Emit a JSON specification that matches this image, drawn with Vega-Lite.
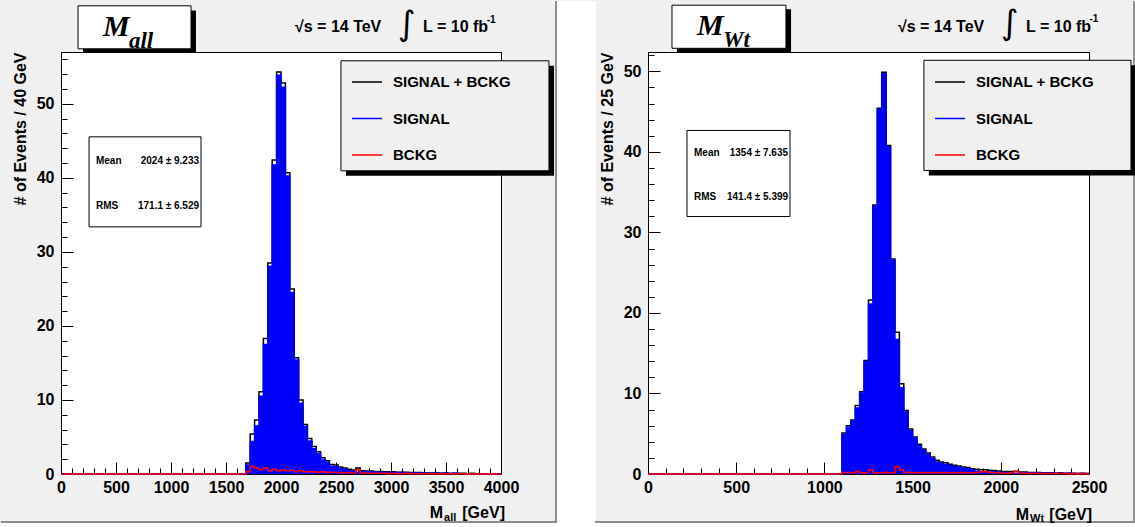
{
"$schema":"https://vega.github.io/schema/vega-lite/v6.json",
"background":"#f0f0f0",
"padding":0,
"config":{
 "view":{"fill":"white","stroke":"black","strokeWidth":1},
 "axis":{"labelFont":"Liberation Sans","labelFontSize":16,"labelFontWeight":"bold","labelColor":"#000","titleFont":"Liberation Sans","titleFontSize":16,"titleFontWeight":"bold","titleColor":"#000","domainColor":"#000","tickColor":"#000","grid":false,"labelOverlap":false,"labelFlush":false}
},
"datasets":{
 "mall":[
  {"x":0,"tot":0,"sig":0,"bkg":0},
  {"x":1680,"tot":1.5,"sig":1.2,"bkg":0.3},
  {"x":1720,"tot":5.4,"sig":4.4,"bkg":1.0},
  {"x":1760,"tot":7.3,"sig":6.5,"bkg":0.8},
  {"x":1800,"tot":11.1,"sig":10.5,"bkg":0.6},
  {"x":1840,"tot":18.3,"sig":17.5,"bkg":0.8},
  {"x":1880,"tot":28.5,"sig":28.05,"bkg":0.45},
  {"x":1920,"tot":42.4,"sig":41.75,"bkg":0.65},
  {"x":1960,"tot":54.3,"sig":53.85,"bkg":0.45},
  {"x":2000,"tot":52.8,"sig":52.25,"bkg":0.55},
  {"x":2040,"tot":40.7,"sig":40.25,"bkg":0.45},
  {"x":2080,"tot":25.0,"sig":24.5,"bkg":0.5},
  {"x":2120,"tot":15.7,"sig":15.4,"bkg":0.3},
  {"x":2160,"tot":10.0,"sig":9.55,"bkg":0.45},
  {"x":2200,"tot":6.7,"sig":6.4,"bkg":0.3},
  {"x":2240,"tot":4.8,"sig":4.45,"bkg":0.35},
  {"x":2280,"tot":3.7,"sig":3.4,"bkg":0.3},
  {"x":2320,"tot":3.0,"sig":2.75,"bkg":0.25},
  {"x":2360,"tot":2.2,"sig":1.9,"bkg":0.3},
  {"x":2400,"tot":1.8,"sig":1.6,"bkg":0.2},
  {"x":2440,"tot":1.3,"sig":1.05,"bkg":0.25},
  {"x":2480,"tot":1.2,"sig":1.0,"bkg":0.2},
  {"x":2520,"tot":0.95,"sig":0.75,"bkg":0.2},
  {"x":2560,"tot":0.8,"sig":0.65,"bkg":0.15},
  {"x":2600,"tot":0.65,"sig":0.45,"bkg":0.2},
  {"x":2640,"tot":0.55,"sig":0.4,"bkg":0.15},
  {"x":2680,"tot":0.8,"sig":0.25,"bkg":0.55},
  {"x":2720,"tot":0.45,"sig":0.3,"bkg":0.15},
  {"x":2760,"tot":0.4,"sig":0.3,"bkg":0.1},
  {"x":2800,"tot":0.4,"sig":0.3,"bkg":0.1},
  {"x":2840,"tot":0.35,"sig":0.25,"bkg":0.1},
  {"x":2880,"tot":0.35,"sig":0.25,"bkg":0.1},
  {"x":2920,"tot":0.3,"sig":0.2,"bkg":0.1},
  {"x":2960,"tot":0.3,"sig":0.25,"bkg":0.05},
  {"x":3000,"tot":0.3,"sig":0.2,"bkg":0.1},
  {"x":3040,"tot":0.25,"sig":0.2,"bkg":0.05},
  {"x":3080,"tot":0.25,"sig":0.2,"bkg":0.05},
  {"x":3120,"tot":0.25,"sig":0.15,"bkg":0.1},
  {"x":3160,"tot":0.2,"sig":0.15,"bkg":0.05},
  {"x":3200,"tot":0.2,"sig":0.15,"bkg":0.05},
  {"x":3240,"tot":0.2,"sig":0.15,"bkg":0.05},
  {"x":3280,"tot":0.15,"sig":0.1,"bkg":0.05},
  {"x":3320,"tot":0.15,"sig":0.1,"bkg":0.05},
  {"x":3360,"tot":0.15,"sig":0.1,"bkg":0.05},
  {"x":3400,"tot":0.15,"sig":0.1,"bkg":0.05},
  {"x":3440,"tot":0.1,"sig":0.1,"bkg":0},
  {"x":3480,"tot":0.15,"sig":0.1,"bkg":0.05},
  {"x":3520,"tot":0.1,"sig":0.05,"bkg":0.05},
  {"x":3560,"tot":0.1,"sig":0.1,"bkg":0},
  {"x":3600,"tot":0.1,"sig":0.05,"bkg":0.05},
  {"x":3640,"tot":0.1,"sig":0.05,"bkg":0.05},
  {"x":3680,"tot":0.05,"sig":0.05,"bkg":0},
  {"x":3720,"tot":0.1,"sig":0.05,"bkg":0.05},
  {"x":3760,"tot":0.05,"sig":0.05,"bkg":0},
  {"x":3800,"tot":0.05,"sig":0.05,"bkg":0},
  {"x":3840,"tot":0.05,"sig":0,"bkg":0.05},
  {"x":3880,"tot":0.05,"sig":0.05,"bkg":0},
  {"x":3920,"tot":0,"sig":0,"bkg":0},
  {"x":3960,"tot":0.05,"sig":0.05,"bkg":0},
  {"x":4000,"tot":0.05,"sig":0.05,"bkg":0}
 ],
 "mwt":[
  {"x":0,"tot":0,"sig":0,"bkg":0},
  {"x":1100,"tot":5.1,"sig":4.9,"bkg":0.2},
  {"x":1125,"tot":6.0,"sig":5.8,"bkg":0.2},
  {"x":1150,"tot":6.7,"sig":6.55,"bkg":0.15},
  {"x":1175,"tot":8.5,"sig":8.2,"bkg":0.3},
  {"x":1200,"tot":10.2,"sig":10.05,"bkg":0.15},
  {"x":1225,"tot":14.1,"sig":13.95,"bkg":0.15},
  {"x":1250,"tot":21.6,"sig":21.1,"bkg":0.5},
  {"x":1275,"tot":33.4,"sig":33.25,"bkg":0.15},
  {"x":1300,"tot":45.4,"sig":45.25,"bkg":0.15},
  {"x":1325,"tot":49.9,"sig":49.7,"bkg":0.2},
  {"x":1350,"tot":40.8,"sig":40.65,"bkg":0.15},
  {"x":1375,"tot":26.7,"sig":26.55,"bkg":0.15},
  {"x":1400,"tot":17.6,"sig":16.7,"bkg":0.9},
  {"x":1425,"tot":11.2,"sig":10.7,"bkg":0.5},
  {"x":1450,"tot":7.9,"sig":7.7,"bkg":0.2},
  {"x":1475,"tot":5.6,"sig":5.4,"bkg":0.2},
  {"x":1500,"tot":4.6,"sig":4.45,"bkg":0.15},
  {"x":1525,"tot":3.7,"sig":3.5,"bkg":0.2},
  {"x":1550,"tot":3.1,"sig":2.95,"bkg":0.15},
  {"x":1575,"tot":2.6,"sig":2.4,"bkg":0.2},
  {"x":1600,"tot":2.1,"sig":1.95,"bkg":0.15},
  {"x":1625,"tot":1.7,"sig":1.5,"bkg":0.2},
  {"x":1650,"tot":1.5,"sig":1.35,"bkg":0.15},
  {"x":1675,"tot":1.4,"sig":1.2,"bkg":0.2},
  {"x":1700,"tot":1.2,"sig":1.05,"bkg":0.15},
  {"x":1725,"tot":1.1,"sig":0.9,"bkg":0.2},
  {"x":1750,"tot":1.0,"sig":0.85,"bkg":0.15},
  {"x":1775,"tot":0.87,"sig":0.67,"bkg":0.2},
  {"x":1800,"tot":0.8,"sig":0.65,"bkg":0.15},
  {"x":1825,"tot":0.66,"sig":0.51,"bkg":0.15},
  {"x":1850,"tot":0.58,"sig":0.38,"bkg":0.2},
  {"x":1875,"tot":0.54,"sig":0.29,"bkg":0.25},
  {"x":1900,"tot":0.54,"sig":0.24,"bkg":0.3},
  {"x":1925,"tot":0.46,"sig":0.26,"bkg":0.2},
  {"x":1950,"tot":0.42,"sig":0.27,"bkg":0.15},
  {"x":1975,"tot":0.37,"sig":0.22,"bkg":0.15},
  {"x":2000,"tot":0.3,"sig":0.2,"bkg":0.1},
  {"x":2025,"tot":0.3,"sig":0.2,"bkg":0.1},
  {"x":2050,"tot":0.3,"sig":0.15,"bkg":0.15},
  {"x":2075,"tot":0.35,"sig":0.05,"bkg":0.3},
  {"x":2100,"tot":0.25,"sig":0.15,"bkg":0.1},
  {"x":2125,"tot":0.25,"sig":0.15,"bkg":0.1},
  {"x":2150,"tot":0.2,"sig":0.15,"bkg":0.05},
  {"x":2175,"tot":0.2,"sig":0.1,"bkg":0.1},
  {"x":2200,"tot":0.2,"sig":0.15,"bkg":0.05},
  {"x":2225,"tot":0.15,"sig":0.1,"bkg":0.05},
  {"x":2250,"tot":0.15,"sig":0.1,"bkg":0.05},
  {"x":2275,"tot":0.15,"sig":0.1,"bkg":0.05},
  {"x":2300,"tot":0.1,"sig":0.05,"bkg":0.05},
  {"x":2325,"tot":0.15,"sig":0.1,"bkg":0.05},
  {"x":2350,"tot":0.1,"sig":0.05,"bkg":0.05},
  {"x":2375,"tot":0.1,"sig":0.1,"bkg":0},
  {"x":2400,"tot":0.1,"sig":0.05,"bkg":0.05},
  {"x":2425,"tot":0.05,"sig":0.05,"bkg":0},
  {"x":2450,"tot":0.1,"sig":0.05,"bkg":0.05},
  {"x":2475,"tot":0.05,"sig":0.05,"bkg":0},
  {"x":2500,"tot":0.05,"sig":0.05,"bkg":0}
 ]
},
"bounds":"flush",
"spacing":147,
"resolve":{"scale":{"x":"independent","y":"independent","color":"independent"},"legend":{"color":"independent"}},
"hconcat":[
 {"width":440,"height":422,
  "resolve":{"axis":{"x":"independent","y":"independent"}},
  "layer":[
   {"data":{"name":"mall"},
    "mark":{"type":"area","interpolate":"step-after","color":"#0000ff"},
    "encoding":{
     "x":{"field":"x","type":"quantitative","scale":{"domain":[0,4000],"nice":false,"zero":false},
      "axis":{"values":[0,100,200,300,400,500,600,700,800,900,1000,1100,1200,1300,1400,1500,1600,1700,1800,1900,2000,2100,2200,2300,2400,2500,2600,2700,2800,2900,3000,3100,3200,3300,3400,3500,3600,3700,3800,3900,4000],
       "format":"d","title":null,"labelPadding":17,"orient":"bottom",
       "tickSize":{"condition":{"test":"datum.value % 500 === 0","value":-12},"value":-6},
       "labelExpr":"datum.value % 500 === 0 ? datum.label : ''"}},
     "y":{"field":"sig","type":"quantitative","scale":{"domain":[0,57],"nice":false},
      "axis":{"values":[0,2,4,6,8,10,12,14,16,18,20,22,24,26,28,30,32,34,36,38,40,42,44,46,48,50,52,54,56],
       "format":"d","title":"# of Events / 40 GeV","titleAnchor":"end","titlePadding":8,"labelPadding":19,"orient":"left",
       "tickSize":{"condition":{"test":"datum.value % 10 === 0","value":-12},"value":-6},
       "labelExpr":"datum.value % 10 === 0 ? datum.label : ''"}}
    }},
   {"data":{"name":"mall"},
    "transform":[{"fold":["tot","sig","bkg"],"as":["key","v"]}],
    "mark":{"type":"line","interpolate":"step-after","strokeWidth":1.5},
    "encoding":{
     "x":{"field":"x","type":"quantitative","axis":null},
     "y":{"field":"v","type":"quantitative","axis":null},
     "color":{"field":"key","type":"nominal","scale":{"domain":["tot","sig","bkg"],"range":["#000000","#0000ff","#ff0000"]},
      "legend":{"orient":"none","legendX":285,"legendY":9,"title":null,"symbolType":"stroke","symbolSize":900,"symbolStrokeWidth":1.5,
       "labelFont":"Liberation Sans","labelFontSize":15,"labelFontWeight":"bold","labelColor":"#000","labelOffset":10,"rowPadding":12.5,"padding":5,"zindex":2,
       "labelExpr":"datum.label == 'tot' ? 'SIGNAL + BCKG' : (datum.label == 'sig' ? 'SIGNAL' : 'BCKG')"}}
    }},
   {"data":{"values":[{}]},"mark":{"type":"rect","color":"#ffffff"},
    "encoding":{"x":{"datum":4509,"type":"quantitative","axis":null},"x2":{"datum":4864},"y":{"datum":63.88,"type":"quantitative","axis":null},"y2":{"datum":-7.28}}},
   {"data":{"values":[{}]},"mark":{"type":"rect","color":"#ffffff"},
    "encoding":{"x":{"datum":-545.5,"type":"quantitative","axis":null},"x2":{"datum":4864},"y":{"datum":-6.62,"type":"quantitative","axis":null},"y2":{"datum":-7.28}}},
   {"data":{"values":[{}]},"mark":{"type":"rect","color":"#8c8c8c"},
    "encoding":{"x":{"datum":4491,"type":"quantitative","axis":null},"x2":{"datum":4509},"y":{"datum":63.88,"type":"quantitative","axis":null},"y2":{"datum":-6.62}}},
   {"data":{"values":[{}]},"mark":{"type":"rect","color":"#8c8c8c"},
    "encoding":{"x":{"datum":-545.5,"type":"quantitative","axis":null},"x2":{"datum":4509},"y":{"datum":-6.35,"type":"quantitative","axis":null},"y2":{"datum":-6.62}}},
   {"data":{"values":[{}]},"mark":{"type":"rect","color":"#000000"},
    "encoding":{"x":{"datum":2591,"type":"quantitative","axis":null},"x2":{"datum":4482},"y":{"datum":55.14,"type":"quantitative","axis":null},"y2":{"datum":40.27}}},
   {"data":{"values":[{}]},"mark":{"type":"rect","fill":"#f0f0f0","stroke":"#000000","strokeWidth":1},
    "encoding":{"x":{"datum":2545,"type":"quantitative","axis":null},"x2":{"datum":4436},"y":{"datum":55.81,"type":"quantitative","axis":null},"y2":{"datum":40.95}}},
   {"data":{"values":[{}]},"mark":{"type":"rect","fill":"#ffffff","stroke":"#000000","strokeWidth":1},
    "encoding":{"x":{"datum":255,"type":"quantitative","axis":null},"x2":{"datum":1273},"y":{"datum":45.54,"type":"quantitative","axis":null},"y2":{"datum":33.38}}},
   {"data":{"values":[{}]},"mark":{"type":"text","text":"Mean","align":"left","baseline":"middle","font":"Liberation Sans","fontSize":10,"fontWeight":"bold"},
    "encoding":{"x":{"datum":318,"type":"quantitative","axis":null},"y":{"datum":42.3,"type":"quantitative","axis":null}}},
   {"data":{"values":[{}]},"mark":{"type":"text","text":"2024 ±  9.233","align":"right","baseline":"middle","font":"Liberation Sans","fontSize":10,"fontWeight":"bold"},
    "encoding":{"x":{"datum":1255,"type":"quantitative","axis":null},"y":{"datum":42.3,"type":"quantitative","axis":null}}},
   {"data":{"values":[{}]},"mark":{"type":"text","text":"RMS","align":"left","baseline":"middle","font":"Liberation Sans","fontSize":10,"fontWeight":"bold"},
    "encoding":{"x":{"datum":318,"type":"quantitative","axis":null},"y":{"datum":36.2,"type":"quantitative","axis":null}}},
   {"data":{"values":[{}]},"mark":{"type":"text","text":"171.1 ±  6.529","align":"right","baseline":"middle","font":"Liberation Sans","fontSize":10,"fontWeight":"bold"},
    "encoding":{"x":{"datum":1255,"type":"quantitative","axis":null},"y":{"datum":36.2,"type":"quantitative","axis":null}}},
   {"data":{"values":[{}]},"mark":{"type":"rect","color":"#000000"},
    "encoding":{"x":{"datum":200,"type":"quantitative","axis":null},"x2":{"datum":1227},"y":{"datum":62.6,"type":"quantitative","axis":null},"y2":{"datum":57.0}}},
   {"data":{"values":[{}]},"mark":{"type":"rect","fill":"#ffffff","stroke":"#000000","strokeWidth":1},
    "encoding":{"x":{"datum":155,"type":"quantitative","axis":null},"x2":{"datum":1182},"y":{"datum":63.24,"type":"quantitative","axis":null},"y2":{"datum":57.43}}},
   {"data":{"values":[{}]},"mark":{"type":"text","text":"M","align":"left","baseline":"alphabetic","font":"Liberation Serif","fontSize":30,"fontWeight":"bold","fontStyle":"italic"},
    "encoding":{"x":{"datum":382,"type":"quantitative","axis":null},"y":{"datum":59.19,"type":"quantitative","axis":null}}},
   {"data":{"values":[{}]},"mark":{"type":"text","text":"all","align":"left","baseline":"alphabetic","font":"Liberation Serif","fontSize":23,"fontWeight":"bold","fontStyle":"italic"},
    "encoding":{"x":{"datum":618,"type":"quantitative","axis":null},"y":{"datum":57.57,"type":"quantitative","axis":null}}},
   {"data":{"values":[{}]},"mark":{"type":"text","text":"√s = 14 TeV","align":"left","baseline":"alphabetic","font":"Liberation Sans","fontSize":16,"fontWeight":"bold"},
    "encoding":{"x":{"datum":2127,"type":"quantitative","axis":null},"y":{"datum":59.7,"type":"quantitative","axis":null}}},
   {"data":{"values":[{}]},"mark":{"type":"text","text":"∫","align":"center","baseline":"middle","font":"DejaVu Sans","fontSize":34},
    "encoding":{"x":{"datum":3145,"type":"quantitative","axis":null},"y":{"datum":60.7,"type":"quantitative","axis":null}}},
   {"data":{"values":[{}]},"mark":{"type":"text","text":"L = 10 fb","align":"left","baseline":"alphabetic","font":"Liberation Sans","fontSize":16,"fontWeight":"bold"},
    "encoding":{"x":{"datum":3291,"type":"quantitative","axis":null},"y":{"datum":59.7,"type":"quantitative","axis":null}}},
   {"data":{"values":[{}]},"mark":{"type":"text","text":"-1","align":"left","baseline":"alphabetic","font":"Liberation Sans","fontSize":10,"fontWeight":"bold"},
    "encoding":{"x":{"datum":3870,"type":"quantitative","axis":null},"y":{"datum":60.9,"type":"quantitative","axis":null}}},
   {"data":{"values":[{}]},"mark":{"type":"text","text":"M","align":"right","baseline":"alphabetic","font":"Liberation Sans","fontSize":16,"fontWeight":"bold"},
    "encoding":{"x":{"datum":3473,"type":"quantitative","axis":null},"y":{"datum":-5.95,"type":"quantitative","axis":null}}},
   {"data":{"values":[{}]},"mark":{"type":"text","text":"all","align":"left","baseline":"alphabetic","font":"Liberation Sans","fontSize":11,"fontWeight":"bold"},
    "encoding":{"x":{"datum":3482,"type":"quantitative","axis":null},"y":{"datum":-6.3,"type":"quantitative","axis":null}}},
   {"data":{"values":[{}]},"mark":{"type":"text","text":"[GeV]","align":"right","baseline":"alphabetic","font":"Liberation Sans","fontSize":16,"fontWeight":"bold"},
    "encoding":{"x":{"datum":4036,"type":"quantitative","axis":null},"y":{"datum":-5.95,"type":"quantitative","axis":null}}}
  ]},
 {"width":441,"height":422,
  "resolve":{"axis":{"x":"independent","y":"independent"}},
  "layer":[
   {"data":{"name":"mwt"},
    "mark":{"type":"area","interpolate":"step-after","color":"#0000ff"},
    "encoding":{
     "x":{"field":"x","type":"quantitative","scale":{"domain":[0,2500],"nice":false,"zero":false},
      "axis":{"values":[0,100,200,300,400,500,600,700,800,900,1000,1100,1200,1300,1400,1500,1600,1700,1800,1900,2000,2100,2200,2300,2400,2500],
       "format":"d","title":null,"labelPadding":17,"orient":"bottom",
       "tickSize":{"condition":{"test":"datum.value % 500 === 0","value":-12},"value":-6},
       "labelExpr":"datum.value % 500 === 0 ? datum.label : ''"}},
     "y":{"field":"sig","type":"quantitative","scale":{"domain":[0,52.4],"nice":false},
      "axis":{"values":[0,2,4,6,8,10,12,14,16,18,20,22,24,26,28,30,32,34,36,38,40,42,44,46,48,50,52],
       "format":"d","title":"# of Events / 25 GeV","titleAnchor":"end","titlePadding":8,"labelPadding":19,"orient":"left",
       "tickSize":{"condition":{"test":"datum.value % 10 === 0","value":-12},"value":-6},
       "labelExpr":"datum.value % 10 === 0 ? datum.label : ''"}}
    }},
   {"data":{"name":"mwt"},
    "transform":[{"fold":["tot","sig","bkg"],"as":["key","v"]}],
    "mark":{"type":"line","interpolate":"step-after","strokeWidth":1.5},
    "encoding":{
     "x":{"field":"x","type":"quantitative","axis":null},
     "y":{"field":"v","type":"quantitative","axis":null},
     "color":{"field":"key","type":"nominal","scale":{"domain":["tot","sig","bkg"],"range":["#000000","#0000ff","#ff0000"]},
      "legend":{"orient":"none","legendX":281,"legendY":9,"title":null,"symbolType":"stroke","symbolSize":900,"symbolStrokeWidth":1.5,
       "labelFont":"Liberation Sans","labelFontSize":15,"labelFontWeight":"bold","labelColor":"#000","labelOffset":10,"rowPadding":12.5,"padding":5,"zindex":2,
       "labelExpr":"datum.label == 'tot' ? 'SIGNAL + BCKG' : (datum.label == 'sig' ? 'SIGNAL' : 'BCKG')"}}
    }},
   {"data":{"values":[{}]},"mark":{"type":"rect","color":"#ffffff"},
    "encoding":{"x":{"datum":-300.5,"type":"quantitative","axis":null},"x2":{"datum":2761},"y":{"datum":-6.09,"type":"quantitative","axis":null},"y2":{"datum":-6.7}}},
   {"data":{"values":[{}]},"mark":{"type":"rect","color":"#8c8c8c"},
    "encoding":{"x":{"datum":-300.5,"type":"quantitative","axis":null},"x2":{"datum":2761},"y":{"datum":-5.84,"type":"quantitative","axis":null},"y2":{"datum":-6.09}}},
   {"data":{"values":[{}]},"mark":{"type":"rect","color":"#8c8c8c"},
    "encoding":{"x":{"datum":2750,"type":"quantitative","axis":null},"x2":{"datum":2761},"y":{"datum":58.7,"type":"quantitative","axis":null},"y2":{"datum":-6.09}}},
   {"data":{"values":[{}]},"mark":{"type":"rect","color":"#000000"},
    "encoding":{"x":{"datum":1592,"type":"quantitative","axis":null},"x2":{"datum":2766},"y":{"datum":50.75,"type":"quantitative","axis":null},"y2":{"datum":37.07}}},
   {"data":{"values":[{}]},"mark":{"type":"rect","fill":"#f0f0f0","stroke":"#000000","strokeWidth":1},
    "encoding":{"x":{"datum":1564,"type":"quantitative","axis":null},"x2":{"datum":2738},"y":{"datum":51.37,"type":"quantitative","axis":null},"y2":{"datum":37.69}}},
   {"data":{"values":[{}]},"mark":{"type":"rect","fill":"#ffffff","stroke":"#000000","strokeWidth":1},
    "encoding":{"x":{"datum":221,"type":"quantitative","axis":null},"x2":{"datum":805},"y":{"datum":42.66,"type":"quantitative","axis":null},"y2":{"datum":31.97}}},
   {"data":{"values":[{}]},"mark":{"type":"text","text":"Mean","align":"left","baseline":"middle","font":"Liberation Sans","fontSize":10,"fontWeight":"bold"},
    "encoding":{"x":{"datum":261,"type":"quantitative","axis":null},"y":{"datum":39.8,"type":"quantitative","axis":null}}},
   {"data":{"values":[{}]},"mark":{"type":"text","text":"1354 ±  7.635","align":"right","baseline":"middle","font":"Liberation Sans","fontSize":10,"fontWeight":"bold"},
    "encoding":{"x":{"datum":794,"type":"quantitative","axis":null},"y":{"datum":39.8,"type":"quantitative","axis":null}}},
   {"data":{"values":[{}]},"mark":{"type":"text","text":"RMS","align":"left","baseline":"middle","font":"Liberation Sans","fontSize":10,"fontWeight":"bold"},
    "encoding":{"x":{"datum":261,"type":"quantitative","axis":null},"y":{"datum":34.45,"type":"quantitative","axis":null}}},
   {"data":{"values":[{}]},"mark":{"type":"text","text":"141.4 ±  5.399","align":"right","baseline":"middle","font":"Liberation Sans","fontSize":10,"fontWeight":"bold"},
    "encoding":{"x":{"datum":794,"type":"quantitative","axis":null},"y":{"datum":34.45,"type":"quantitative","axis":null}}},
   {"data":{"values":[{}]},"mark":{"type":"rect","color":"#000000"},
    "encoding":{"x":{"datum":164,"type":"quantitative","axis":null},"x2":{"datum":811},"y":{"datum":57.7,"type":"quantitative","axis":null},"y2":{"datum":52.4}}},
   {"data":{"values":[{}]},"mark":{"type":"rect","fill":"#ffffff","stroke":"#000000","strokeWidth":1},
    "encoding":{"x":{"datum":136,"type":"quantitative","axis":null},"x2":{"datum":782},"y":{"datum":58.21,"type":"quantitative","axis":null},"y2":{"datum":52.86}}},
   {"data":{"values":[{}]},"mark":{"type":"text","text":"M","align":"left","baseline":"alphabetic","font":"Liberation Serif","fontSize":30,"fontWeight":"bold","fontStyle":"italic"},
    "encoding":{"x":{"datum":278,"type":"quantitative","axis":null},"y":{"datum":54.48,"type":"quantitative","axis":null}}},
   {"data":{"values":[{}]},"mark":{"type":"text","text":"Wt","align":"left","baseline":"alphabetic","font":"Liberation Serif","fontSize":23,"fontWeight":"bold","fontStyle":"italic"},
    "encoding":{"x":{"datum":425,"type":"quantitative","axis":null},"y":{"datum":52.99,"type":"quantitative","axis":null}}},
   {"data":{"values":[{}]},"mark":{"type":"text","text":"√s = 14 TeV","align":"left","baseline":"alphabetic","font":"Liberation Sans","fontSize":16,"fontWeight":"bold"},
    "encoding":{"x":{"datum":1417,"type":"quantitative","axis":null},"y":{"datum":54.9,"type":"quantitative","axis":null}}},
   {"data":{"values":[{}]},"mark":{"type":"text","text":"∫","align":"center","baseline":"middle","font":"DejaVu Sans","fontSize":34},
    "encoding":{"x":{"datum":2052,"type":"quantitative","axis":null},"y":{"datum":55.85,"type":"quantitative","axis":null}}},
   {"data":{"values":[{}]},"mark":{"type":"text","text":"L = 10 fb","align":"left","baseline":"alphabetic","font":"Liberation Sans","fontSize":16,"fontWeight":"bold"},
    "encoding":{"x":{"datum":2143,"type":"quantitative","axis":null},"y":{"datum":54.9,"type":"quantitative","axis":null}}},
   {"data":{"values":[{}]},"mark":{"type":"text","text":"-1","align":"left","baseline":"alphabetic","font":"Liberation Sans","fontSize":10,"fontWeight":"bold"},
    "encoding":{"x":{"datum":2503,"type":"quantitative","axis":null},"y":{"datum":56.1,"type":"quantitative","axis":null}}},
   {"data":{"values":[{}]},"mark":{"type":"text","text":"M","align":"right","baseline":"alphabetic","font":"Liberation Sans","fontSize":16,"fontWeight":"bold"},
    "encoding":{"x":{"datum":2160,"type":"quantitative","axis":null},"y":{"datum":-5.72,"type":"quantitative","axis":null}}},
   {"data":{"values":[{}]},"mark":{"type":"text","text":"Wt","align":"left","baseline":"alphabetic","font":"Liberation Sans","fontSize":11,"fontWeight":"bold"},
    "encoding":{"x":{"datum":2166,"type":"quantitative","axis":null},"y":{"datum":-6.0,"type":"quantitative","axis":null}}},
   {"data":{"values":[{}]},"mark":{"type":"text","text":"[GeV]","align":"right","baseline":"alphabetic","font":"Liberation Sans","fontSize":16,"fontWeight":"bold"},
    "encoding":{"x":{"datum":2517,"type":"quantitative","axis":null},"y":{"datum":-5.72,"type":"quantitative","axis":null}}}
  ]}
]
}
